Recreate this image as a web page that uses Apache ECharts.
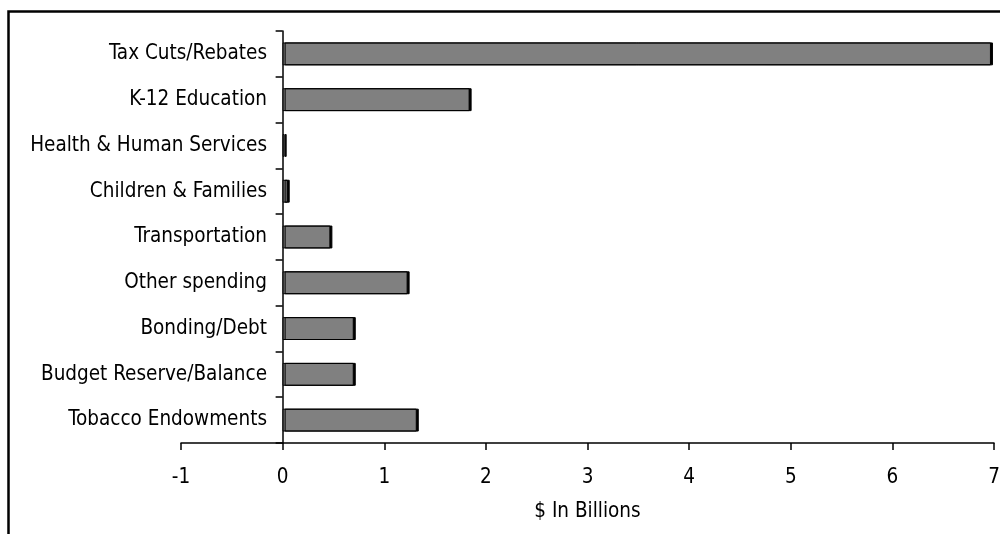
<!DOCTYPE html>
<html>
<head>
<meta charset="utf-8">
<script src="https://cdn.jsdelivr.net/npm/echarts@6/dist/echarts.min.js"></script>
<style>html,body{margin:0;padding:0;background:#fff}#c{width:1000px;height:534px}</style>
</head>
<body>
<div id="c"></div>
<script>
const categories = ["Tax Cuts/Rebates","K-12 Education","Health & Human Services","Children & Families","Transportation","Other spending","Bonding/Debt","Budget Reserve/Balance","Tobacco Endowments"];
const values = [6.97, 1.84, 0.02, 0.05, 0.47, 1.23, 0.70, 0.70, 1.32];
const xTicks = { min: -1, max: 7, interval: 1 };
const axisTitle = "$ In Billions";

const FONT = "DejaVu Sans Condensed, DejaVu Sans, sans-serif";
const FS = 20.5;
const chart = echarts.init(document.getElementById('c'), null, { renderer: 'canvas' });
chart.setOption({
  animation: false,
  backgroundColor: '#fff',
  graphic: [{
    type: 'rect', left: 6, top: 9, z: 100, silent: true,
    shape: { width: 1100, height: 700 },
    style: { fill: 'none', stroke: '#000', lineWidth: 2.5 }
  }],
  grid: { left: 181, right: 6, top: 31, bottom: 91, containLabel: false, outerBoundsMode: 'none' },
  xAxis: {
    type: 'value', min: xTicks.min, max: xTicks.max, interval: xTicks.interval,
    name: axisTitle, nameLocation: 'middle', nameGap: 58,
    nameTextStyle: { color: '#000', fontFamily: FONT, fontSize: FS },
    axisLine: { show: true, onZero: false, lineStyle: { color: '#000', width: 1.5 } },
    axisTick: { show: true, inside: false, length: 7, lineStyle: { color: '#000', width: 1.5 } },
    axisLabel: { color: '#000', fontFamily: FONT, fontSize: FS, margin: 24 },
    splitLine: { show: false }
  },
  yAxis: {
    type: 'category', data: categories, inverse: true,
    axisLine: { show: true, onZero: true, lineStyle: { color: '#000', width: 1.5 } },
    axisTick: { show: true, length: 7, lineStyle: { color: '#000', width: 1.5 } },
    axisLabel: { color: '#000', fontFamily: FONT, fontSize: FS, margin: -86, align: 'right', padding: [5, 0, 0, 0] },
    splitLine: { show: false }
  },
  series: [{
    type: 'bar', data: values, barCategoryGap: '50%',
    itemStyle: {
      color: '#808080', borderColor: '#000', borderWidth: 1,
      shadowColor: '#000', shadowOffsetX: 2, shadowOffsetY: 0, shadowBlur: 0
    }
  }]
});
</script>
</body>
</html>
